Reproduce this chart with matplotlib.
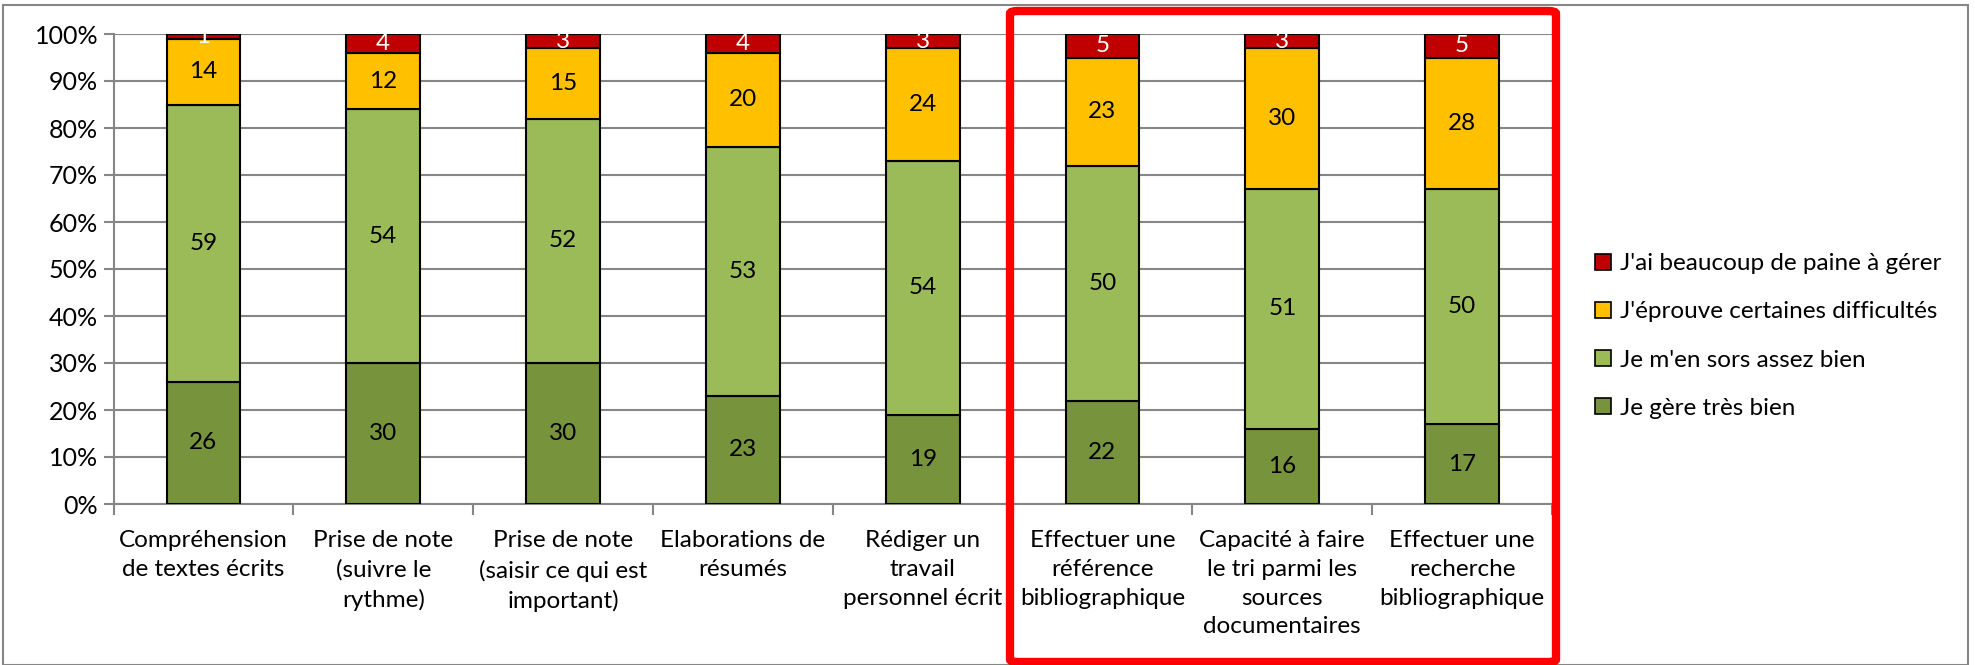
import matplotlib
matplotlib.use("Agg")
import matplotlib.pyplot as plt
import numpy as np
from matplotlib.patches import Rectangle, FancyBboxPatch
from matplotlib.lines import Line2D

plt.rcParams['font.family'] = ['Lato', 'DejaVu Sans']

categories = [
    "Compréhension\nde textes écrits",
    "Prise de note\n(suivre le\nrythme)",
    "Prise de note\n(saisir ce qui est\nimportant)",
    "Elaborations de\nrésumés",
    "Rédiger un\ntravail\npersonnel écrit",
    "Effectuer une\nréférence\nbibliographique",
    "Capacité à faire\nle tri parmi les\nsources\ndocumentaires",
    "Effectuer une\nrecherche\nbibliographique",
]
series_names = [
    "Je gère très bien",
    "Je m'en sors assez bien",
    "J'éprouve certaines difficultés",
    "J'ai beaucoup de paine à gérer",
]
tres_bien = [26, 30, 30, 23, 19, 22, 16, 17]
assez_bien = [59, 54, 52, 53, 54, 50, 51, 50]
difficultes = [14, 12, 15, 20, 24, 23, 30, 28]
beaucoup_peine = [1, 4, 3, 4, 3, 5, 3, 5]
yticks = [0, 10, 20, 30, 40, 50, 60, 70, 80, 90, 100]

colors = ["#77933C", "#9BBB59", "#FFC000", "#C00000"]
label_colors = ["black", "black", "black", "white"]
series = [tres_bien, assez_bien, difficultes, beaucoup_peine]

FS = 17.5
W, H = 1975, 665
fig = plt.figure(figsize=(W / 100, H / 100), dpi=100)
ax = fig.add_axes([113.5 / W, 1 - 504 / H, (1552 - 113.5) / W, (504 - 34) / H])

x = np.arange(len(categories))
bottom = np.zeros(len(categories))
for vals, col, lc, name in zip(series, colors, label_colors, series_names):
    bars = ax.bar(x, vals, width=0.41, bottom=bottom, color=col,
                  edgecolor="black", linewidth=1.5, label=name, zorder=3)
    ax.bar_label(bars, labels=[str(v) for v in vals], label_type="center",
                 color=lc, fontsize=FS, zorder=4)
    bottom += np.array(vals)

ax.set_xlim(-0.5, len(categories) - 0.5)
ax.set_ylim(0, 100)
ax.set_yticks(yticks)
ax.set_yticklabels([f"{v}%" for v in yticks], fontsize=18)
ax.yaxis.grid(True, color="#868686", linewidth=1.5, zorder=0)
ax.set_axisbelow(True)

ax.set_xticks(x)
ax.set_xticklabels(categories, fontsize=FS, linespacing=1.45, va="top")
ax.set_xticks(np.arange(-0.5, len(categories) + 0.5, 1), minor=True)
ax.tick_params(axis="x", which="major", length=0, pad=19)
ax.tick_params(axis="x", which="minor", length=8, color="#868686", width=1.5)
ax.tick_params(axis="y", length=7, color="#868686", width=1.5, pad=4)

for s in ["top", "right"]:
    ax.spines[s].set_visible(False)
for s in ["left", "bottom"]:
    ax.spines[s].set_color("#868686")
    ax.spines[s].set_linewidth(1.5)

handles = [Line2D([0], [0], marker="s", linestyle="none", markersize=12,
                  markerfacecolor=c, markeredgecolor="black", markeredgewidth=1.2)
           for c in colors]
leg = fig.legend(handles[::-1], series_names[::-1], loc="center left",
                 bbox_to_anchor=(1582 / W, 1 - 336 / H), frameon=False,
                 fontsize=FS, labelspacing=1.12, handletextpad=0.25,
                 handlelength=0.9, borderaxespad=0)

# outer chart border
fig.patches.append(Rectangle((3 / W, 0), (1968 - 3) / W, (H - 5) / H,
                             transform=fig.transFigure, fill=False,
                             edgecolor="#868686", linewidth=1.5))
# red highlight box
fig.patches.append(FancyBboxPatch((1010 / W, 3 / H), (1556 - 1010) / W, (H - 14) / H,
                                  boxstyle="round,pad=0,rounding_size=0.004",
                                  transform=fig.transFigure, fill=False,
                                  edgecolor="#FF0000", linewidth=6, zorder=10))

fig.savefig("out.png", dpi=100)
